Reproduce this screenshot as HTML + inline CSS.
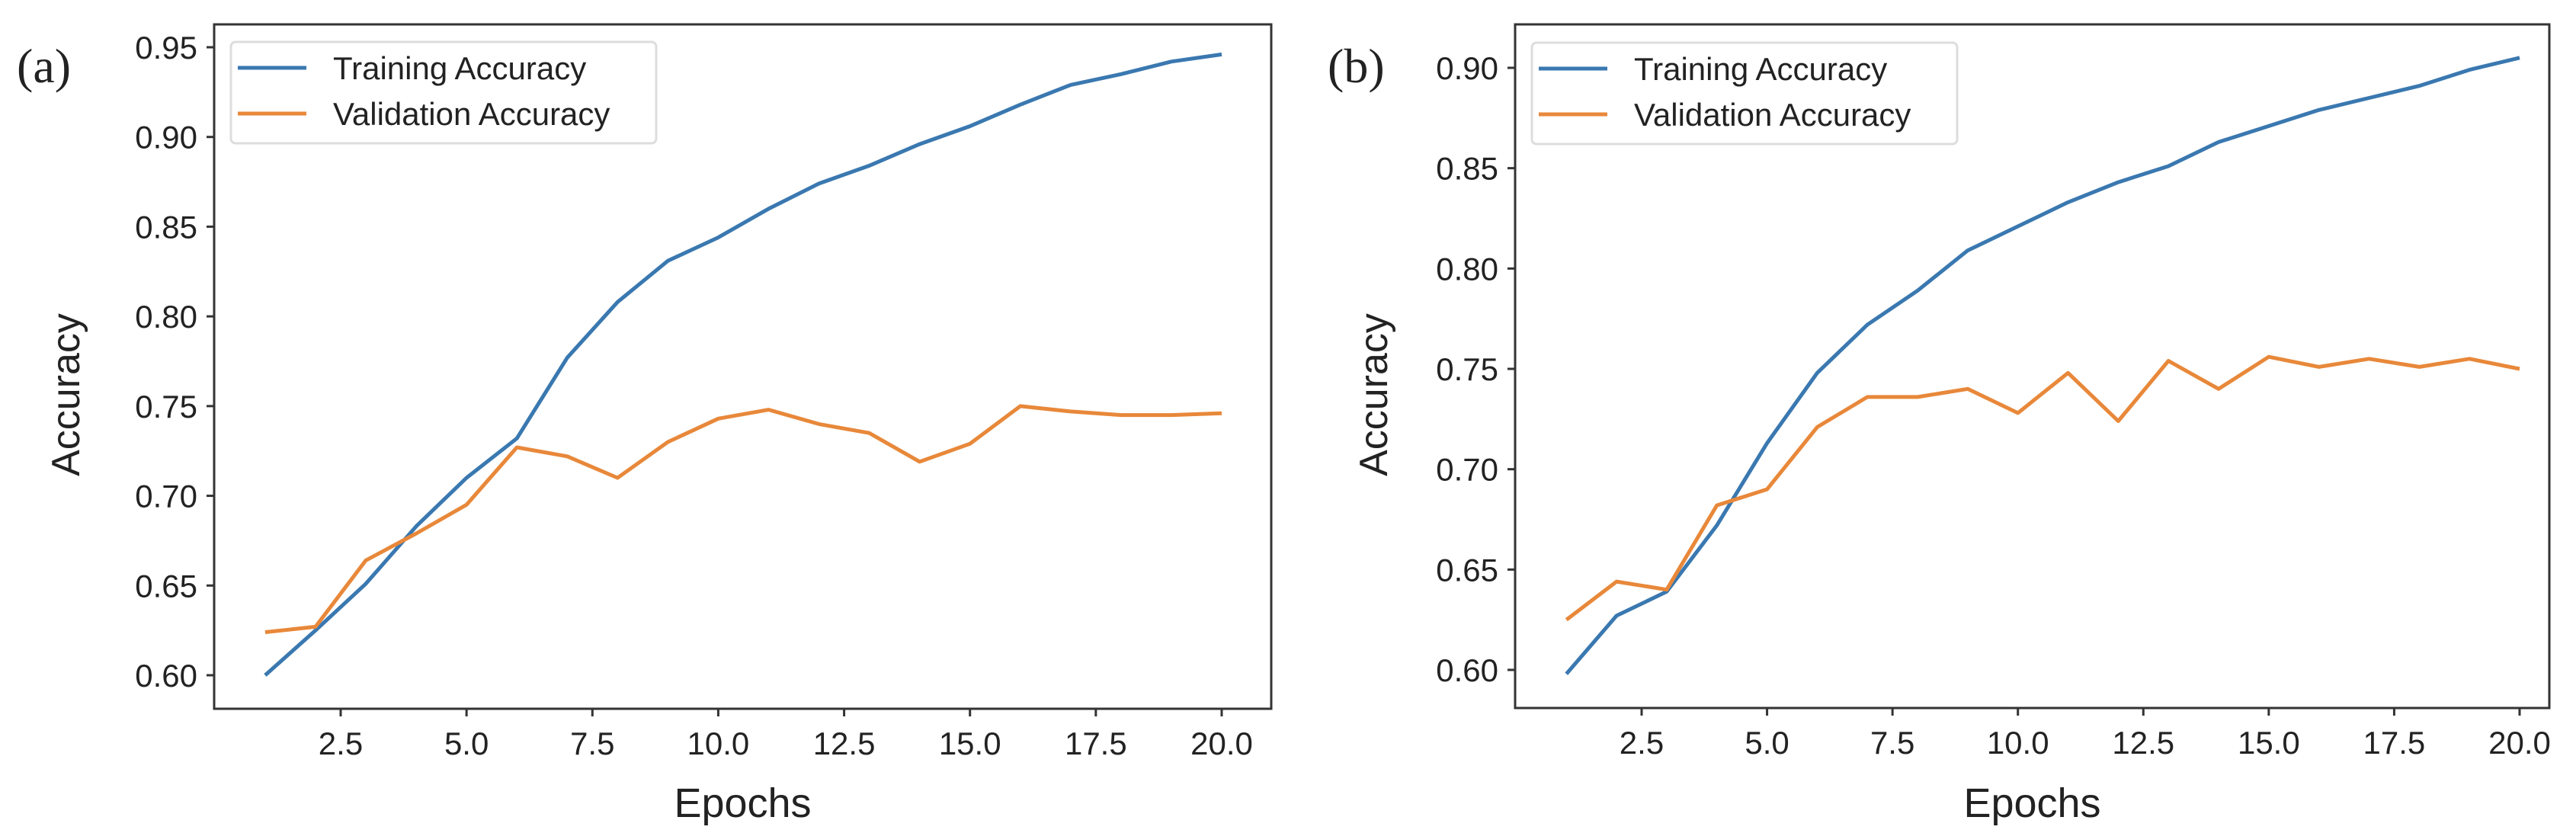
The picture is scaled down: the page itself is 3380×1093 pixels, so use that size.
<!DOCTYPE html>
<html><head><meta charset="utf-8"><style>
html,body{margin:0;padding:0;background:#fff;}
svg{display:block;}
text{font-family:"Liberation Sans",sans-serif;fill:#222;}
</style></head><body>
<svg id="chart" width="3380" height="1093" viewBox="0 0 3380 1093" xmlns="http://www.w3.org/2000/svg"></svg>
<script>
const epochs = [1,2,3,4,5,6,7,8,9,10,11,12,13,14,15,16,17,18,19,20];
const trainA = [0.600,0.625,0.651,0.683,0.710,0.732,0.777,0.808,0.831,0.844,0.860,0.874,0.884,0.896,0.906,0.918,0.929,0.935,0.942,0.946];
const valA = [0.624,0.627,0.664,0.679,0.695,0.727,0.722,0.710,0.730,0.743,0.748,0.740,0.735,0.719,0.729,0.750,0.747,0.745,0.745,0.746];
const trainB = [0.598,0.627,0.639,0.672,0.713,0.748,0.772,0.789,0.809,0.821,0.833,0.843,0.851,0.863,0.871,0.879,0.885,0.891,0.899,0.905];
const valB = [0.625,0.644,0.640,0.682,0.690,0.721,0.736,0.736,0.740,0.728,0.748,0.724,0.754,0.740,0.756,0.751,0.755,0.751,0.755,0.750];
const xTicks = [2.5,5.0,7.5,10.0,12.5,15.0,17.5,20.0];
const yTicksA = [0.60,0.65,0.70,0.75,0.80,0.85,0.90,0.95];
const yTicksB = [0.60,0.65,0.70,0.75,0.80,0.85,0.90];
const seriesNames = ["Training Accuracy","Validation Accuracy"];

const NS = "http://www.w3.org/2000/svg";
const svg = document.getElementById('chart');
function mk(tag, attrs, parent, txt){
  const e = document.createElementNS(NS, tag);
  for (const k in attrs) e.setAttribute(k, attrs[k]);
  if (txt !== undefined) e.textContent = txt;
  (parent||svg).appendChild(e);
  return e;
}

function panel(cfg){
  const g = mk('g', {});
  
  
  const X = v => cfg.x0px + (v - cfg.x0v) * (cfg.x1px - cfg.x0px) / (cfg.x1v - cfg.x0v);
  const Y = v => cfg.y0px + (v - cfg.y0v) * (cfg.y1px - cfg.y0px) / (cfg.y1v - cfg.y0v);
  const box = mk('rect', {x:cfg.L, y:cfg.T, width:cfg.R-cfg.L, height:cfg.B-cfg.T, fill:'none', stroke:'#333', 'stroke-width':3}, g);
  
  
  xTicks.forEach(t => {
    const x = X(t);
    mk('line', {x1:x, x2:x, y1:cfg.B, y2:cfg.B+10, stroke:'#333', 'stroke-width':3}, g);
    const tx = mk('text', {x:x, y:cfg.B+60, 'font-size':42, 'text-anchor':'middle'}, g, t.toFixed(1));
    
    
  });
  cfg.yTicks.forEach(t => {
    const y = Y(t);
    mk('line', {x1:cfg.L-10, x2:cfg.L, y1:y, y2:y, stroke:'#333', 'stroke-width':3}, g);
    const ty = mk('text', {x:cfg.L-22, y:y+15, 'font-size':42, 'text-anchor':'end'}, g, t.toFixed(2));
    
    
  });
  const colors = ['#3a78b0','#e8883a'];
  [cfg.train, cfg.val].forEach((arr, i) => {
    const d = arr.map((v, j) => (j ? 'L' : 'M') + X(epochs[j]).toFixed(1) + ' ' + Y(v).toFixed(1)).join(' ');
    const p = mk('path', {d:d, fill:'none', stroke:colors[i], 'stroke-width':5, 'stroke-linejoin':'round'}, g);
    
    
  });
  const lg = mk('g', {}, g);
  
  
  mk('rect', {x:cfg.lx, y:cfg.ly, width:cfg.lw, height:133, rx:6, fill:'#fff', stroke:'#ddd', 'stroke-width':3}, lg);
  seriesNames.forEach((n, i) => {
    const yy = cfg.ly + 34 + i*60;
    const le = mk('g', {}, lg);
    
    
    mk('line', {x1:cfg.lx+9, x2:cfg.lx+99, y1:yy, y2:yy, stroke:colors[i], 'stroke-width':5}, le);
    mk('text', {x:cfg.lx+134, y:yy+15, 'font-size':42, fill:'#333'}, le, n);
  });
  const yl = mk('text', {x:cfg.ylx, y:518, 'font-size':52, 'text-anchor':'middle', transform:`rotate(-90 ${cfg.ylx} 518)`}, g, 'Accuracy');
  
  
  const xl = mk('text', {x:(cfg.L+cfg.R)/2, y:1072, 'font-size':54, 'text-anchor':'middle'}, g, 'Epochs');
  
  
  const pl = mk('text', {x:cfg.plx, y:108, 'font-size':64, style:'font-family:"Liberation Serif",serif'}, g, cfg.label);
  
  
}

panel({id:'a', label:'(a)', L:281, R:1668, T:32, B:930,
  x0v:2.5, x1v:20, x0px:447, x1px:1603, y0v:0.60, y1v:0.95, y0px:886, y1px:62,
  yTicks:yTicksA, train:trainA, val:valA, lx:303, ly:55, lw:558, ylx:104, plx:22});
panel({id:'b', label:'(b)', L:1988, R:3345, T:32, B:929,
  x0v:2.5, x1v:20, x0px:2154, x1px:3306, y0v:0.60, y1v:0.90, y0px:879, y1px:89,
  yTicks:yTicksB, train:trainB, val:valB, lx:2010, ly:56, lw:558, ylx:1820, plx:1742});
</script>
</body></html>
